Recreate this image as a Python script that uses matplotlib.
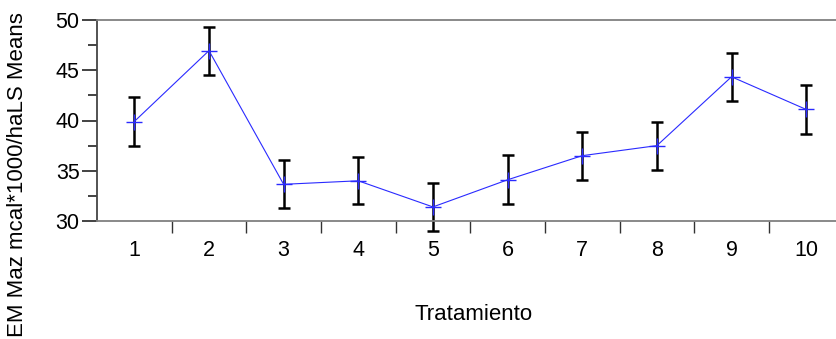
import numpy as np
import matplotlib
matplotlib.use('Agg')
import matplotlib.pyplot as plt
from matplotlib.ticker import MultipleLocator

plt.rcParams['font.family'] = ['Liberation Sans', 'DejaVu Sans']

# LS means per treatment with their error bar half-widths
tratamientos = ['1', '2', '3', '4', '5', '6', '7', '8', '9', '10']
medias = [39.9, 46.95, 33.65, 34.0, 31.4, 34.1, 36.5, 37.5, 44.35, 41.1]
errores = [2.4, 2.4, 2.4, 2.35, 2.4, 2.45, 2.4, 2.4, 2.4, 2.4]

W, H = 837, 339
fig = plt.figure(figsize=(W / 100, H / 100), dpi=100)
ax = fig.add_axes([97 / W, 1 - 221 / H, (843.5 - 97) / W, (221 - 20) / H])

x = np.arange(1, len(tratamientos) + 1)

eb = ax.errorbar(x, medias, yerr=errores, fmt='none', ecolor='black',
                 elinewidth=1.8, capsize=4.5, capthick=1.8, zorder=2)
for art in eb.lines[1] + eb.lines[2]:
    art.set_clip_on(False)
ax.plot(x, medias, color='#2a2aff', lw=0.8, marker='+', ms=11,
        mew=1.0, zorder=3, clip_on=False)

ax.set_xlim(0.5, 10.5)
ax.set_ylim(30, 50)

ax.set_xticks(x)
ax.set_xticklabels(tratamientos)
ax.set_xticks(np.arange(1.5, 10.5, 1), minor=True)
ax.tick_params(axis='x', which='major', length=0, pad=14, labelsize=15.5)
ax.tick_params(axis='x', which='minor', length=8.6, width=1.0,
               direction='out', color='#333333')

ax.yaxis.set_major_locator(MultipleLocator(5))
ax.yaxis.set_minor_locator(MultipleLocator(2.5))
ax.tick_params(axis='y', which='major', length=11, width=1.2, pad=1.5,
               labelsize=15.5, color='#222222')
ax.tick_params(axis='y', which='minor', length=6.5, width=1.2,
               color='#222222')

ax.spines['left'].set_color('#444444')
ax.spines['left'].set_linewidth(1.3)
ax.spines['top'].set_color('#808080')
ax.spines['top'].set_linewidth(1.3)
ax.spines['bottom'].set_color('#808080')
ax.spines['bottom'].set_linewidth(1.3)
ax.spines['right'].set_visible(False)

fig.text(18 / W, 1 - 175 / H, 'EM Maz mcal*1000/haLS Means', rotation=90,
         ha='center', va='center', fontsize=16)
fig.text(474 / W, 1 - 314 / H, 'Tratamiento', ha='center', va='center',
         fontsize=16)

fig.savefig('out.png', dpi=100)
